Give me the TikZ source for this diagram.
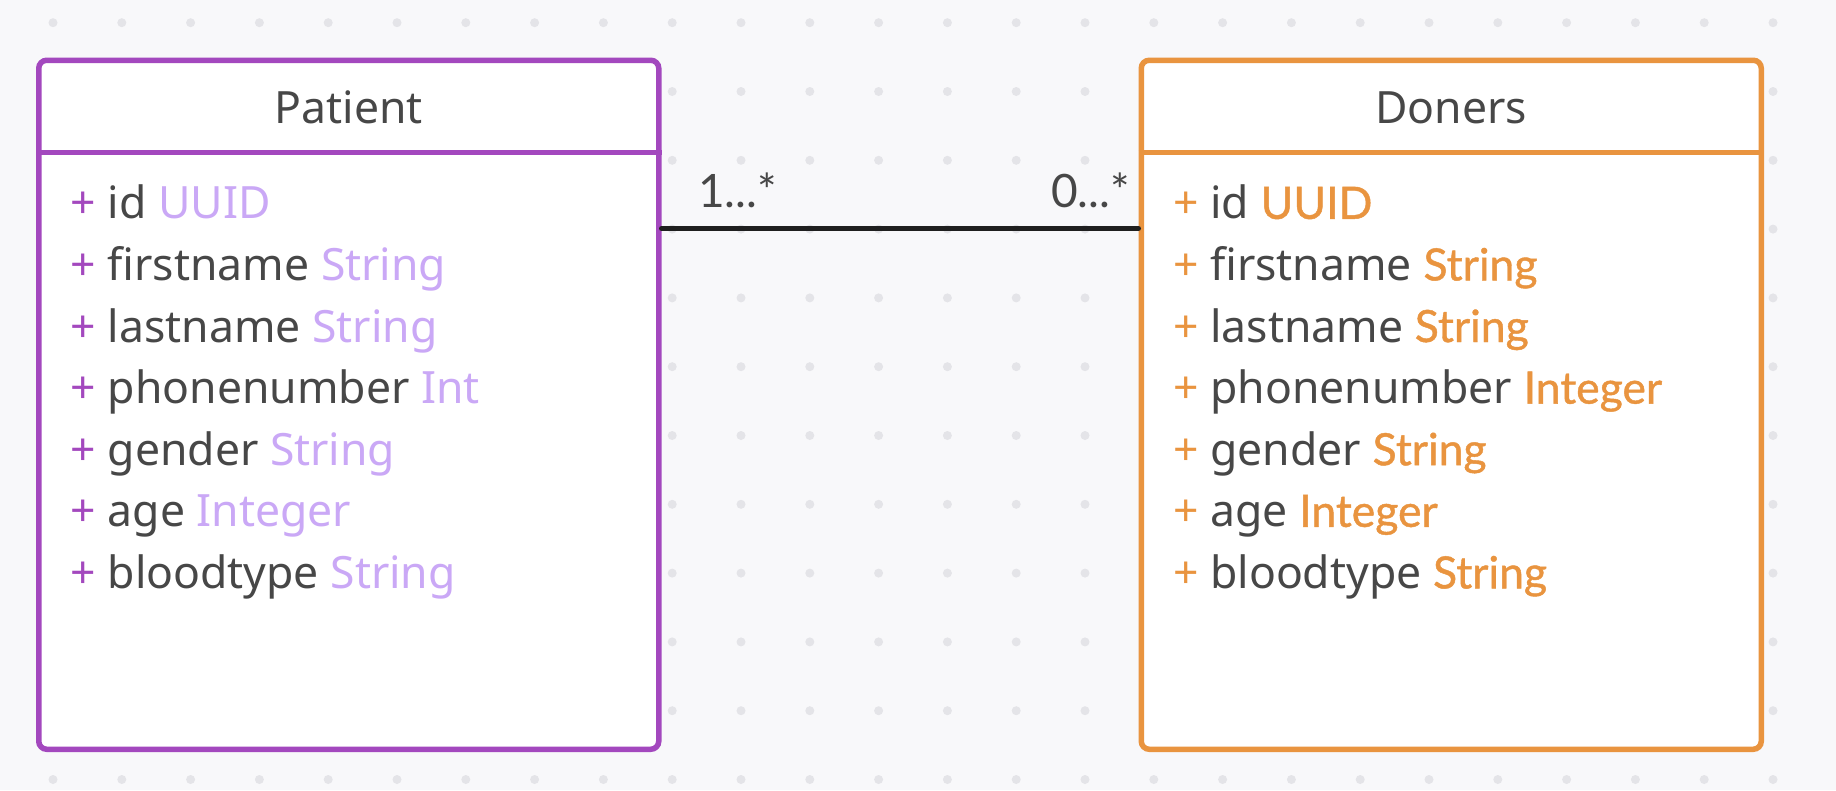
\documentclass[tikz,border=0pt]{standalone}
\usepackage{fontspec}
\setmainfont{Noto Sans}
\newfontfamily\multfont{Lato}
\newfontfamily\donerstypefont{Lato}[FakeBold=1]
\usepackage{xcolor}
\usepackage{tikz}
\definecolor{canvasbg}{HTML}{F8F8FA}
\definecolor{griddot}{HTML}{E4E4E8}
\definecolor{inkgray}{HTML}{474747}
\definecolor{patientline}{HTML}{A348BE}
\definecolor{patienttype}{HTML}{CAA8F6}
\definecolor{donersline}{HTML}{E9943F}
\tikzset{>=latex,
    classbox/.style={draw, fill=white, line width=5.5pt, rounded corners=8pt, inner sep=0pt,
      minimum width=620pt, minimum height=689pt, anchor=north west},
    patientclass/.style={classbox, draw=patientline},
    donersclass/.style={classbox, draw=donersline},
    classtitle/.style={anchor=base, inner sep=0pt, text=inkgray, font=\fontsize{44.5}{52}\selectfont},
    attr/.style={anchor=base west, inner sep=0pt, text=inkgray, font=\fontsize{44.5}{52}\selectfont},
    assoc/.style={draw=black!88, line width=5pt, line cap=round},
    mult/.style={inner sep=0pt, text=inkgray, font=\multfont\fontsize{46}{54}\selectfont}}
\usetikzlibrary{calc}

\begin{document}
\begin{tikzpicture}[x=1pt, y=-1pt]
    \fill[canvasbg] (0,0) rectangle (1836,790);
    \useasboundingbox (0,0) rectangle (1836,790);
    \foreach \i in {0,...,25} {
      \foreach \j in {0,...,11} {
        \fill[griddot] ({53+68.8*\i}, {22.7+68.8*\j}) circle (4.5pt);
      }
    }
    \node[patientclass] (patient) at (36, 57.5) {};
    \node[donersclass] (doners) at (1138.5, 57.5) {};
    \draw[patientline, line width=5.5pt] ($(patient.north west)+(0,95)$) -- ($(patient.north east)+(0,95)$);
    \draw[donersline, line width=5.5pt] ($(doners.north west)+(0,95)$) -- ($(doners.north east)+(0,95)$);
    \node[classtitle] (patienttitle) at ($(patient.north)+(0,65.7)$) {Patient};
    \node[classtitle] (donerstitle) at ($(doners.north)+(0,65.7)$) {Doners};
    \foreach \attrname/\attrtype [count=\k from 0] in {id/UUID, firstname/String, lastname/String,
        phonenumber/Int, gender/String, age/Integer, bloodtype/String} {
      \node[attr] (patientattr\k) at ($(patient.north west)+(34.5,161.3+61.6*\k)$)
        {\textcolor{patientline}{+} \attrname{} \textcolor{patienttype}{\attrtype}};
    }
    \foreach \attrname/\attrtype [count=\k from 0] in {id/UUID, firstname/String, lastname/String,
        phonenumber/Integer, gender/String, age/Integer, bloodtype/String} {
      \node[attr] (donersattr\k) at ($(doners.north west)+(34.5,161.3+61.6*\k)$)
        {\textcolor{donersline}{+} \attrname{} \textcolor{donersline}{\donerstypefont\attrtype}};
    }
    \coordinate (linkrow) at (0, 228.5);
    \draw[assoc] (patient.east |- linkrow) -- (doners.west |- linkrow);
    \node[mult, anchor=base west] (patientmult) at ($(patient.east |- linkrow)+(36.5,-21.5)$) {1...*};
    \node[mult, anchor=base east] (donersmult) at ($(doners.west |- linkrow)+(-8.5,-21.5)$) {0...*};
\end{tikzpicture}
\end{document}
